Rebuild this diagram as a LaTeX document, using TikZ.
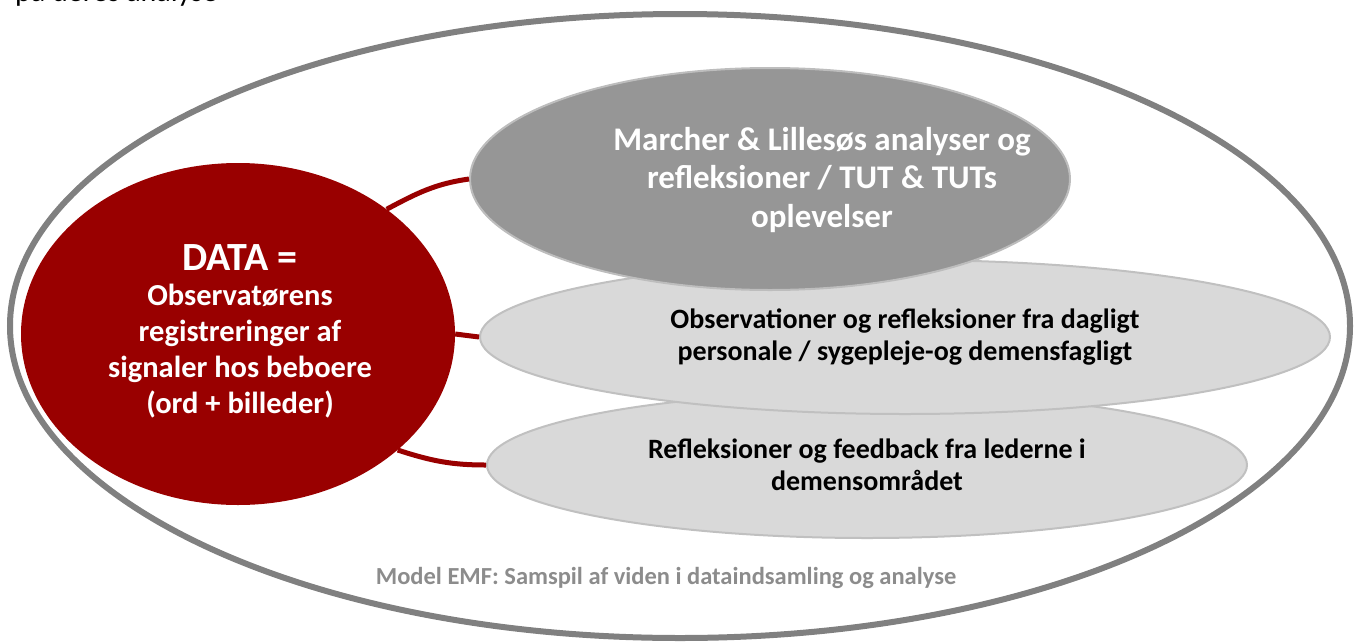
\documentclass[tikz,border=0pt]{standalone}
\usepackage{fontspec}
\setmainfont{Carlito}
\usetikzlibrary{shapes.geometric}
\definecolor{dred}{HTML}{990000}
\definecolor{ringgray}{HTML}{808080}
\definecolor{darkfill}{HTML}{969696}
\definecolor{darkedge}{HTML}{BDBDBD}
\definecolor{lightfill}{HTML}{D9D9D9}
\definecolor{lightedge}{HTML}{C0C0C0}
\definecolor{captgray}{HTML}{8C8C8C}
\tikzset{
  ell/.style={ellipse, inner sep=0pt, align=center},
  darkell/.style={ell, fill=darkfill, draw=darkedge, line width=2pt},
  lightell/.style={ell, fill=lightfill, draw=lightedge, line width=2pt, text=black, font=\fontsize{28}{32}\selectfont\bfseries},
  link/.style={draw=dred, line width=5pt},
}
\begin{document}
\begin{tikzpicture}[x=1pt,y=-1pt]
\useasboundingbox (0,0) rectangle (1357,643);
\begin{scope}
\clip (0,0) rectangle (1357,643);
\node[anchor=base west, inner sep=0pt, font=\fontsize{30}{36}\selectfont] (cut) at (15,1) {på deres analyse};
\end{scope}
% outer ring
\node[ell, draw=ringgray, line width=6pt, minimum width=1340pt, minimum height=624pt] (outer) at (680,326) {};
% three ellipses
\node[lightell, minimum width=760pt, minimum height=146pt] (bot) at (867,465) {Refleksioner og feedback fra lederne i\\demensområdet};
\node[lightell, minimum width=850pt, minimum height=154pt] (mid) at (905,337) {Observationer og refleksioner fra dagligt\\personale / sygepleje-og demensfagligt};
\node[darkell, minimum width=600pt, minimum height=222pt] (top) at (770,179) {};
\node[text=white, align=center, inner sep=0pt, font=\fontsize{33}{38.5}\selectfont\bfseries] (toptext) at (822,180) {Marcher \& Lillesøs analyser og\\refleksioner / TUT \& TUTs\\oplevelser};
% data ellipse
\node[ell, fill=dred, minimum width=434pt, minimum height=342pt] (data) at (238,334) {};
\node[text=white, align=center, inner sep=0pt] (datatitle) at (240,258) {\fontsize{40}{44}\selectfont\bfseries DATA =};
\node[text=white, align=center, inner sep=0pt, font=\fontsize{30.5}{36}\selectfont\bfseries] (datatext) at (240,351) {Observatørens\\registreringer af\\signaler hos beboere\\(ord + billeder)};
% connectors
\draw[link] (data.40) to[out=28,in=188] (top.west);
\draw[link] (data.east) -- (mid.west);
\draw[link] (data.-36) to[out=-18,in=180] (bot.west);
% caption
\node[text=captgray, font=\fontsize{24.5}{28}\selectfont\bfseries, inner sep=0pt] (caption) at (666,578) {Model EMF: Samspil af viden i dataindsamling og analyse};
\end{tikzpicture}
\end{document}
